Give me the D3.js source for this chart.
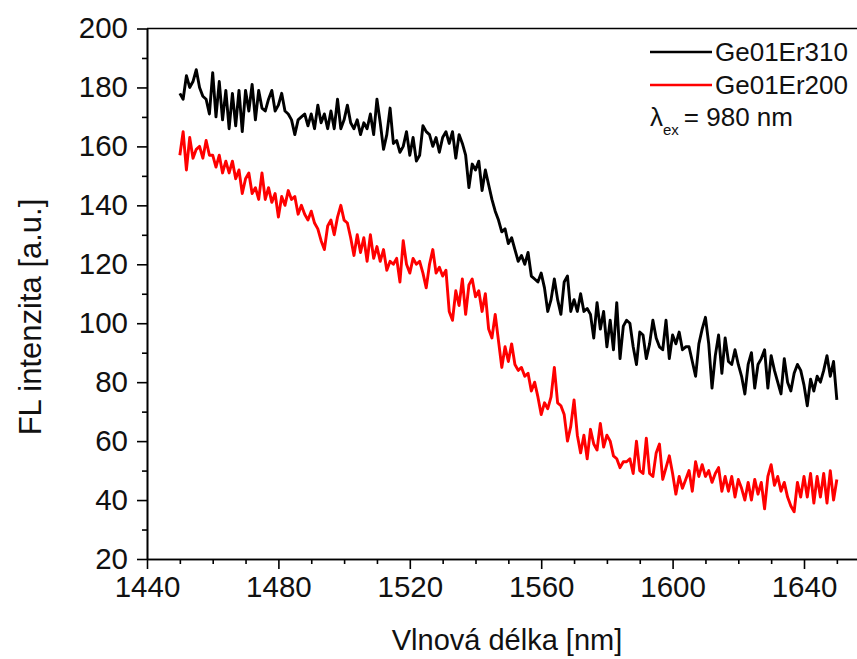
<!DOCTYPE html>
<html>
<head>
<meta charset="utf-8">
<script src="https://cdn.jsdelivr.net/npm/d3@7"></script>
<style>
  html, body { margin: 0; padding: 0; background: #fff; }
  svg { display: block; font-family: "Liberation Sans", Arial, sans-serif; }
</style>
</head>
<body>
<svg id="chart" width="857" height="659"></svg>
<script>
// Emission spectra, 1 nm sampling starting at 1450 nm
const wavelengthStart = 1450;
const wavelengthStep = 1;

const seriesNames = ["Ge01Er310", "Ge01Er200"];
const seriesColors = ["#000000", "#ff0000"];

const ge01Er310 = [
  178,176,184,180,182,186,180,177,176,171,
  185,170,182,169,179,166,178,167,179,165,
  179,172,181,169,179,173,172,176,179,172,
  174,178,172,171,169,164,169,170,171,167,
  171,166,174,168,171,166,172,166,176,166,
  169,174,168,166,169,164,168,166,171,164,
  176,168,159,164,173,161,162,158,160,165,
  157,163,155,157,167,165,164,160,163,158,
  163,165,161,165,156,164,161,157,146,154,
  152,155,145,152,147,142,138,135,131,132,
  127,129,125,121,123,120,124,116,115,114,
  117,112,104,108,115,108,103,114,116,104,
  108,104,110,104,105,103,95,107,98,104,
  92,101,91,107,88,99,101,100,92,86,
  97,96,88,93,101,95,92,91,101,88,
  96,93,97,91,92,92,87,82,93,98,
  102,93,78,89,96,83,95,87,86,91,
  86,82,76,86,90,78,86,88,91,78,
  89,84,80,76,88,80,77,83,86,84,
  79,72,81,77,82,80,84,89,82,87,
  74
];

const ge01Er200 = [
  157,165,152,163,156,159,160,156,162,157,
  157,153,157,151,155,151,155,149,152,144,
  149,151,144,146,142,151,142,146,141,144,
  136,143,140,145,142,143,137,140,137,135,
  138,134,132,128,125,133,135,130,136,140,
  135,134,129,123,130,124,129,121,130,122,
  126,121,125,118,121,120,122,114,128,120,
  117,122,120,121,117,112,120,125,117,119,
  116,118,104,101,111,106,115,103,113,115,
  109,111,104,110,98,95,103,94,85,92,
  87,93,86,84,85,82,83,77,80,75,
  69,73,71,75,85,73,72,69,60,65,
  74,62,56,62,54,64,59,57,66,58,
  62,60,55,54,51,53,53,54,49,60,
  50,49,61,49,48,56,59,47,51,55,
  49,42,48,44,47,50,43,53,48,52,
  48,50,46,49,51,43,48,43,48,41,
  47,44,40,46,40,47,42,46,37,48,
  52,45,48,43,46,41,38,36,46,41,
  48,41,49,39,48,41,49,39,50,40,
  47
];

const xMajorTicks = [1440, 1480, 1520, 1560, 1600, 1640];
const xMinorTicks = [1450, 1460, 1470, 1490, 1500, 1510, 1530, 1540, 1550, 1570, 1580, 1590, 1610, 1620, 1630, 1650];
const yMajorTicks = [20, 40, 60, 80, 100, 120, 140, 160, 180, 200];
const yMinorTicks = [30, 50, 70, 90, 110, 130, 150, 170, 190];

const xTitle = "Vlnová délka [nm]";
const yTitle = "FL intenzita [a.u.]";

// ---- layout ----
const svg = d3.select("#chart");
const plotLeft = 147, plotTop = 28.5, plotBottom = 559;

const x = d3.scaleLinear().domain([1440, 1660]).range([plotLeft, plotLeft + 220 * 3.285]);
const y = d3.scaleLinear().domain([20, 200]).range([plotBottom, plotTop]);

svg.append("rect").attr("width", 857).attr("height", 659).attr("fill", "#fff");

const toPoints = vals => vals.map((v, i) => ({ wl: wavelengthStart + i * wavelengthStep, v }));
const line = d3.line().x(d => x(d.wl)).y(d => y(d.v));

[ge01Er310, ge01Er200].forEach((vals, k) => {
  svg.append("path")
    .datum(toPoints(vals))
    .attr("fill", "none")
    .attr("stroke", seriesColors[k])
    .attr("stroke-width", 2.9)
    .attr("stroke-linejoin", "round")
    .attr("d", line);
});

// ---- axes ----
const tickFont = 29.5;
const fmt = d3.format("d");

const styleAxis = g => {
  g.select(".domain").attr("stroke", "#000").attr("stroke-width", 1.6);
  g.selectAll(".tick line").attr("stroke", "#000").attr("stroke-width", 1.6);
};

const xAxis = svg.append("g").attr("transform", `translate(0,${plotBottom})`)
  .call(d3.axisBottom(x).tickValues(xMajorTicks).tickFormat(fmt).tickSize(10).tickSizeOuter(0).tickPadding(7))
  .call(styleAxis);
xAxis.selectAll(".tick text").attr("font-size", tickFont).attr("fill", "#111").attr("font-family", "Liberation Sans, Arial, sans-serif");

svg.append("g").attr("transform", `translate(0,${plotBottom})`)
  .call(d3.axisBottom(x).tickValues(xMinorTicks).tickSize(5).tickSizeOuter(0).tickFormat(""))
  .call(styleAxis);

const yAxis = svg.append("g").attr("transform", `translate(${plotLeft},0)`)
  .call(d3.axisLeft(y).tickValues(yMajorTicks).tickFormat(fmt).tickSize(10).tickSizeOuter(0).tickPadding(9))
  .call(styleAxis);
yAxis.selectAll(".tick text").attr("font-size", tickFont).attr("fill", "#111").attr("font-family", "Liberation Sans, Arial, sans-serif");

svg.append("g").attr("transform", `translate(${plotLeft},0)`)
  .call(d3.axisLeft(y).tickValues(yMinorTicks).tickSize(5).tickSizeOuter(0).tickFormat(""))
  .call(styleAxis);

// top frame line
svg.append("line")
  .attr("x1", plotLeft).attr("x2", x(1660)).attr("y1", y(200)).attr("y2", y(200))
  .attr("stroke", "#000").attr("stroke-width", 1.6);

// ---- titles ----
svg.append("text")
  .attr("x", 507).attr("y", 650)
  .attr("text-anchor", "middle")
  .attr("font-size", 29).attr("fill", "#111")
  .text(xTitle);

svg.append("text")
  .attr("transform", "translate(41,317) rotate(-90)")
  .attr("text-anchor", "middle")
  .attr("font-size", 31).attr("fill", "#111")
  .text(yTitle);

// ---- legend ----
const legend = svg.append("g");
seriesNames.forEach((name, k) => {
  const ly = 52 + k * 33;
  legend.append("line")
    .attr("x1", 650).attr("x2", 712).attr("y1", ly).attr("y2", ly)
    .attr("stroke", seriesColors[k]).attr("stroke-width", 2.6);
  legend.append("text")
    .attr("x", 715).attr("y", ly + 9)
    .attr("font-size", 26).attr("fill", "#111")
    .text(name);
});

const exc = legend.append("text").attr("x", 650).attr("y", 126).attr("font-size", 26).attr("fill", "#111");
exc.append("tspan").text("λ");
exc.append("tspan").attr("dy", 9).attr("font-size", 15).text("ex");
exc.append("tspan").attr("dy", -9).attr("dx", 5).text("= 980 nm");
</script>
</body>
</html>
